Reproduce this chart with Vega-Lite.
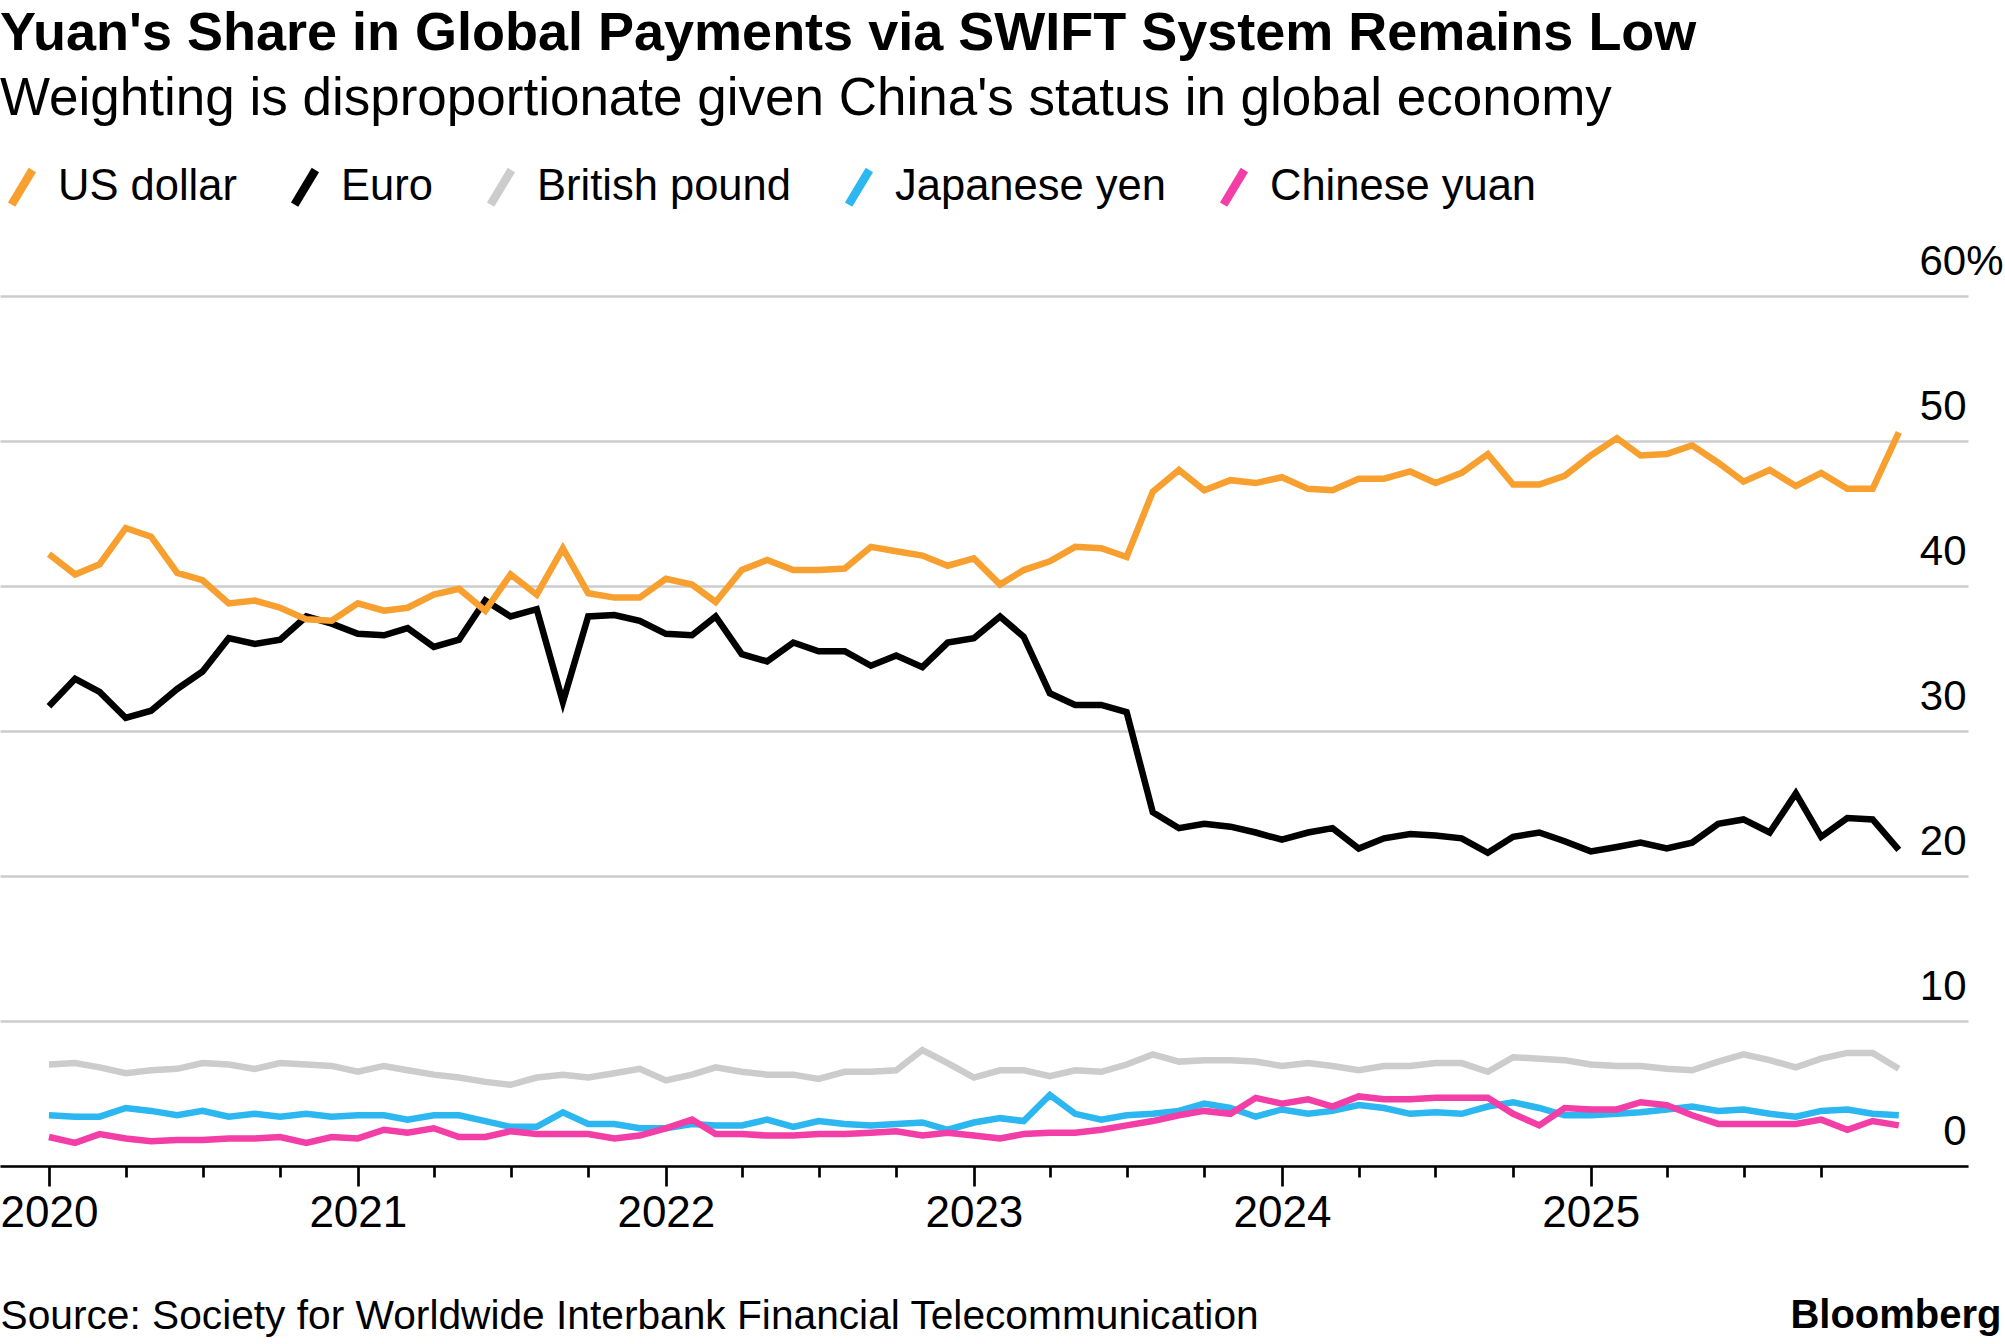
{
  "$schema": "https://vega.github.io/schema/vega-lite/v6.json",
  "width": 1968,
  "height": 870,
  "autosize": {"type": "none"},
  "padding": {"left": 0, "top": 296, "right": 37, "bottom": 178},
  "background": "white",
  "config": {"view": {"stroke": null}, "font": "Liberation Sans"},
  "title": {
    "text": "Yuan's Share in Global Payments via SWIFT System Remains Low",
    "subtitle": "Weighting is disproportionate given China's status in global economy",
    "anchor": "start",
    "frame": "group",
    "font": "Liberation Sans",
    "subtitleFont": "Liberation Sans",
    "fontSize": 54,
    "fontWeight": "bold",
    "subtitleFontSize": 53,
    "color": "#000000",
    "subtitleColor": "#000000",
    "offset": 39,
    "subtitlePadding": 12
  },
  "data": {
    "values": [
      {"date": "2020-01-01", "US dollar": 42.2, "Euro": 31.7, "British pound": 7.0, "Japanese yen": 3.5, "Chinese yuan": 2.0},
      {"date": "2020-02-01", "US dollar": 40.8, "Euro": 33.6, "British pound": 7.1, "Japanese yen": 3.4, "Chinese yuan": 1.6},
      {"date": "2020-03-01", "US dollar": 41.5, "Euro": 32.7, "British pound": 6.8, "Japanese yen": 3.4, "Chinese yuan": 2.2},
      {"date": "2020-04-01", "US dollar": 44.0, "Euro": 30.9, "British pound": 6.4, "Japanese yen": 4.0, "Chinese yuan": 1.9},
      {"date": "2020-05-01", "US dollar": 43.4, "Euro": 31.4, "British pound": 6.6, "Japanese yen": 3.8, "Chinese yuan": 1.7},
      {"date": "2020-06-01", "US dollar": 40.9, "Euro": 32.9, "British pound": 6.7, "Japanese yen": 3.5, "Chinese yuan": 1.8},
      {"date": "2020-07-01", "US dollar": 40.4, "Euro": 34.1, "British pound": 7.1, "Japanese yen": 3.8, "Chinese yuan": 1.8},
      {"date": "2020-08-01", "US dollar": 38.8, "Euro": 36.4, "British pound": 7.0, "Japanese yen": 3.4, "Chinese yuan": 1.9},
      {"date": "2020-09-01", "US dollar": 39.0, "Euro": 36.0, "British pound": 6.7, "Japanese yen": 3.6, "Chinese yuan": 1.9},
      {"date": "2020-10-01", "US dollar": 38.5, "Euro": 36.3, "British pound": 7.1, "Japanese yen": 3.4, "Chinese yuan": 2.0},
      {"date": "2020-11-01", "US dollar": 37.7, "Euro": 37.9, "British pound": 7.0, "Japanese yen": 3.6, "Chinese yuan": 1.6},
      {"date": "2020-12-01", "US dollar": 37.6, "Euro": 37.4, "British pound": 6.9, "Japanese yen": 3.4, "Chinese yuan": 2.0},
      {"date": "2021-01-01", "US dollar": 38.8, "Euro": 36.7, "British pound": 6.5, "Japanese yen": 3.5, "Chinese yuan": 1.9},
      {"date": "2021-02-01", "US dollar": 38.3, "Euro": 36.6, "British pound": 6.9, "Japanese yen": 3.5, "Chinese yuan": 2.5},
      {"date": "2021-03-01", "US dollar": 38.5, "Euro": 37.1, "British pound": 6.6, "Japanese yen": 3.2, "Chinese yuan": 2.3},
      {"date": "2021-04-01", "US dollar": 39.4, "Euro": 35.8, "British pound": 6.3, "Japanese yen": 3.5, "Chinese yuan": 2.6},
      {"date": "2021-05-01", "US dollar": 39.8, "Euro": 36.3, "British pound": 6.1, "Japanese yen": 3.5, "Chinese yuan": 2.0},
      {"date": "2021-06-01", "US dollar": 38.3, "Euro": 39.0, "British pound": 5.8, "Japanese yen": 3.1, "Chinese yuan": 2.0},
      {"date": "2021-07-01", "US dollar": 40.8, "Euro": 37.9, "British pound": 5.6, "Japanese yen": 2.7, "Chinese yuan": 2.4},
      {"date": "2021-08-01", "US dollar": 39.4, "Euro": 38.4, "British pound": 6.1, "Japanese yen": 2.7, "Chinese yuan": 2.2},
      {"date": "2021-09-01", "US dollar": 42.6, "Euro": 32.0, "British pound": 6.3, "Japanese yen": 3.7, "Chinese yuan": 2.2},
      {"date": "2021-10-01", "US dollar": 39.5, "Euro": 37.9, "British pound": 6.1, "Japanese yen": 2.9, "Chinese yuan": 2.2},
      {"date": "2021-11-01", "US dollar": 39.2, "Euro": 38.0, "British pound": 6.4, "Japanese yen": 2.9, "Chinese yuan": 1.9},
      {"date": "2021-12-01", "US dollar": 39.2, "Euro": 37.6, "British pound": 6.7, "Japanese yen": 2.6, "Chinese yuan": 2.1},
      {"date": "2022-01-01", "US dollar": 40.5, "Euro": 36.7, "British pound": 5.9, "Japanese yen": 2.6, "Chinese yuan": 2.6},
      {"date": "2022-02-01", "US dollar": 40.1, "Euro": 36.6, "British pound": 6.3, "Japanese yen": 2.9, "Chinese yuan": 3.2},
      {"date": "2022-03-01", "US dollar": 38.9, "Euro": 37.9, "British pound": 6.8, "Japanese yen": 2.8, "Chinese yuan": 2.2},
      {"date": "2022-04-01", "US dollar": 41.1, "Euro": 35.3, "British pound": 6.5, "Japanese yen": 2.8, "Chinese yuan": 2.2},
      {"date": "2022-05-01", "US dollar": 41.8, "Euro": 34.8, "British pound": 6.3, "Japanese yen": 3.2, "Chinese yuan": 2.1},
      {"date": "2022-06-01", "US dollar": 41.1, "Euro": 36.1, "British pound": 6.3, "Japanese yen": 2.7, "Chinese yuan": 2.1},
      {"date": "2022-07-01", "US dollar": 41.1, "Euro": 35.5, "British pound": 6.0, "Japanese yen": 3.1, "Chinese yuan": 2.2},
      {"date": "2022-08-01", "US dollar": 41.2, "Euro": 35.5, "British pound": 6.5, "Japanese yen": 2.9, "Chinese yuan": 2.2},
      {"date": "2022-09-01", "US dollar": 42.7, "Euro": 34.5, "British pound": 6.5, "Japanese yen": 2.8, "Chinese yuan": 2.3},
      {"date": "2022-10-01", "US dollar": 42.4, "Euro": 35.2, "British pound": 6.6, "Japanese yen": 2.9, "Chinese yuan": 2.4},
      {"date": "2022-11-01", "US dollar": 42.1, "Euro": 34.4, "British pound": 8.0, "Japanese yen": 3.0, "Chinese yuan": 2.1},
      {"date": "2022-12-01", "US dollar": 41.4, "Euro": 36.1, "British pound": 7.1, "Japanese yen": 2.5, "Chinese yuan": 2.3},
      {"date": "2023-01-01", "US dollar": 41.9, "Euro": 36.4, "British pound": 6.1, "Japanese yen": 3.0, "Chinese yuan": 2.1},
      {"date": "2023-02-01", "US dollar": 40.1, "Euro": 37.9, "British pound": 6.6, "Japanese yen": 3.3, "Chinese yuan": 1.9},
      {"date": "2023-03-01", "US dollar": 41.1, "Euro": 36.5, "British pound": 6.6, "Japanese yen": 3.1, "Chinese yuan": 2.2},
      {"date": "2023-04-01", "US dollar": 41.7, "Euro": 32.6, "British pound": 6.2, "Japanese yen": 4.9, "Chinese yuan": 2.3},
      {"date": "2023-05-01", "US dollar": 42.7, "Euro": 31.8, "British pound": 6.6, "Japanese yen": 3.6, "Chinese yuan": 2.3},
      {"date": "2023-06-01", "US dollar": 42.6, "Euro": 31.8, "British pound": 6.5, "Japanese yen": 3.2, "Chinese yuan": 2.5},
      {"date": "2023-07-01", "US dollar": 42.0, "Euro": 31.3, "British pound": 7.0, "Japanese yen": 3.5, "Chinese yuan": 2.8},
      {"date": "2023-08-01", "US dollar": 46.5, "Euro": 24.4, "British pound": 7.7, "Japanese yen": 3.6, "Chinese yuan": 3.1},
      {"date": "2023-09-01", "US dollar": 48.0, "Euro": 23.3, "British pound": 7.2, "Japanese yen": 3.8, "Chinese yuan": 3.5},
      {"date": "2023-10-01", "US dollar": 46.6, "Euro": 23.6, "British pound": 7.3, "Japanese yen": 4.3, "Chinese yuan": 3.8},
      {"date": "2023-11-01", "US dollar": 47.3, "Euro": 23.4, "British pound": 7.3, "Japanese yen": 4.0, "Chinese yuan": 3.6},
      {"date": "2023-12-01", "US dollar": 47.1, "Euro": 23.0, "British pound": 7.2, "Japanese yen": 3.4, "Chinese yuan": 4.7},
      {"date": "2024-01-01", "US dollar": 47.5, "Euro": 22.5, "British pound": 6.9, "Japanese yen": 3.9, "Chinese yuan": 4.3},
      {"date": "2024-02-01", "US dollar": 46.7, "Euro": 23.0, "British pound": 7.1, "Japanese yen": 3.6, "Chinese yuan": 4.6},
      {"date": "2024-03-01", "US dollar": 46.6, "Euro": 23.3, "British pound": 6.9, "Japanese yen": 3.8, "Chinese yuan": 4.1},
      {"date": "2024-04-01", "US dollar": 47.4, "Euro": 21.9, "British pound": 6.6, "Japanese yen": 4.2, "Chinese yuan": 4.8},
      {"date": "2024-05-01", "US dollar": 47.4, "Euro": 22.6, "British pound": 6.9, "Japanese yen": 4.0, "Chinese yuan": 4.6},
      {"date": "2024-06-01", "US dollar": 47.9, "Euro": 22.9, "British pound": 6.9, "Japanese yen": 3.6, "Chinese yuan": 4.6},
      {"date": "2024-07-01", "US dollar": 47.1, "Euro": 22.8, "British pound": 7.1, "Japanese yen": 3.7, "Chinese yuan": 4.7},
      {"date": "2024-08-01", "US dollar": 47.8, "Euro": 22.6, "British pound": 7.1, "Japanese yen": 3.6, "Chinese yuan": 4.7},
      {"date": "2024-09-01", "US dollar": 49.1, "Euro": 21.6, "British pound": 6.5, "Japanese yen": 4.1, "Chinese yuan": 4.7},
      {"date": "2024-10-01", "US dollar": 47.0, "Euro": 22.7, "British pound": 7.5, "Japanese yen": 4.4, "Chinese yuan": 3.6},
      {"date": "2024-11-01", "US dollar": 47.0, "Euro": 23.0, "British pound": 7.4, "Japanese yen": 4.0, "Chinese yuan": 2.8},
      {"date": "2024-12-01", "US dollar": 47.6, "Euro": 22.4, "British pound": 7.3, "Japanese yen": 3.5, "Chinese yuan": 4.0},
      {"date": "2025-01-01", "US dollar": 49.0, "Euro": 21.7, "British pound": 7.0, "Japanese yen": 3.5, "Chinese yuan": 3.9},
      {"date": "2025-02-01", "US dollar": 50.2, "Euro": 22.0, "British pound": 6.9, "Japanese yen": 3.6, "Chinese yuan": 3.9},
      {"date": "2025-03-01", "US dollar": 49.0, "Euro": 22.3, "British pound": 6.9, "Japanese yen": 3.7, "Chinese yuan": 4.4},
      {"date": "2025-04-01", "US dollar": 49.1, "Euro": 21.9, "British pound": 6.7, "Japanese yen": 3.9, "Chinese yuan": 4.2},
      {"date": "2025-05-01", "US dollar": 49.7, "Euro": 22.3, "British pound": 6.6, "Japanese yen": 4.1, "Chinese yuan": 3.5},
      {"date": "2025-06-01", "US dollar": 48.5, "Euro": 23.6, "British pound": 7.2, "Japanese yen": 3.8, "Chinese yuan": 2.9},
      {"date": "2025-07-01", "US dollar": 47.2, "Euro": 23.9, "British pound": 7.7, "Japanese yen": 3.9, "Chinese yuan": 2.9},
      {"date": "2025-08-01", "US dollar": 48.0, "Euro": 23.0, "British pound": 7.3, "Japanese yen": 3.6, "Chinese yuan": 2.9},
      {"date": "2025-09-01", "US dollar": 46.9, "Euro": 25.7, "British pound": 6.8, "Japanese yen": 3.4, "Chinese yuan": 2.9},
      {"date": "2025-10-01", "US dollar": 47.8, "Euro": 22.7, "British pound": 7.4, "Japanese yen": 3.8, "Chinese yuan": 3.2},
      {"date": "2025-11-01", "US dollar": 46.7, "Euro": 24.0, "British pound": 7.8, "Japanese yen": 3.9, "Chinese yuan": 2.5},
      {"date": "2025-12-01", "US dollar": 46.7, "Euro": 23.9, "British pound": 7.8, "Japanese yen": 3.6, "Chinese yuan": 3.1},
      {"date": "2026-01-01", "US dollar": 50.6, "Euro": 21.8, "British pound": 6.7, "Japanese yen": 3.5, "Chinese yuan": 2.8}
    ]
  },
  "transform": [
    {"fold": ["British pound", "Japanese yen", "Chinese yuan", "Euro", "US dollar"], "as": ["currency", "share"]}
  ],
  "mark": {"type": "line", "strokeWidth": 6.5, "strokeJoin": "miter", "strokeMiterLimit": 4},
  "encoding": {
    "x": {
      "field": "date",
      "type": "temporal",
      "scale": {
        "type": "utc",
        "domain": [
          {"year": 2019, "month": 11, "date": 4, "utc": true},
          {"year": 2026, "month": 3, "date": 24, "utc": true}
        ]
      },
      "axis": {
        "values": [
          {"year": 2020, "month": 1, "date": 1, "utc": true}, {"year": 2020, "month": 4, "date": 1, "utc": true}, {"year": 2020, "month": 7, "date": 1, "utc": true}, {"year": 2020, "month": 10, "date": 1, "utc": true},
          {"year": 2021, "month": 1, "date": 1, "utc": true}, {"year": 2021, "month": 4, "date": 1, "utc": true}, {"year": 2021, "month": 7, "date": 1, "utc": true}, {"year": 2021, "month": 10, "date": 1, "utc": true},
          {"year": 2022, "month": 1, "date": 1, "utc": true}, {"year": 2022, "month": 4, "date": 1, "utc": true}, {"year": 2022, "month": 7, "date": 1, "utc": true}, {"year": 2022, "month": 10, "date": 1, "utc": true},
          {"year": 2023, "month": 1, "date": 1, "utc": true}, {"year": 2023, "month": 4, "date": 1, "utc": true}, {"year": 2023, "month": 7, "date": 1, "utc": true}, {"year": 2023, "month": 10, "date": 1, "utc": true},
          {"year": 2024, "month": 1, "date": 1, "utc": true}, {"year": 2024, "month": 4, "date": 1, "utc": true}, {"year": 2024, "month": 7, "date": 1, "utc": true}, {"year": 2024, "month": 10, "date": 1, "utc": true},
          {"year": 2025, "month": 1, "date": 1, "utc": true}, {"year": 2025, "month": 4, "date": 1, "utc": true}, {"year": 2025, "month": 7, "date": 1, "utc": true}, {"year": 2025, "month": 10, "date": 1, "utc": true}
        ],
        "labelExpr": "utcmonth(datum.value) == 0 ? utcFormat(datum.value, '%Y') : ''",
        "tickSize": {"condition": {"test": "utcmonth(datum.value) == 0", "value": 20}, "value": 11},
        "tickColor": "#000000",
        "tickWidth": 2.7,
        "domainColor": "#000000",
        "domainWidth": 2.7,
        "grid": false,
        "labelFont": "Liberation Sans",
        "labelFontSize": 44,
        "labelColor": "#000000",
        "labelBaseline": "alphabetic",
        "labelPadding": 40,
        "labelFlush": false,
        "labelOverlap": false,
        "labelBound": false,
        "title": "Source: Society for Worldwide Interbank Financial Telecommunication",
        "titleFont": "Liberation Sans",
        "titleFontSize": 40.7,
        "titleFontWeight": "normal",
        "titleColor": "#000000",
        "titleX": 0,
        "titleY": 162,
        "titleAlign": "left",
        "titleAnchor": "start",
        "titleBaseline": "alphabetic"
      }
    },
    "y": {
      "field": "share",
      "type": "quantitative",
      "scale": {"domain": [0, 60]},
      "axis": {
        "orient": "right",
        "values": [0, 10, 20, 30, 40, 50, 60],
        "grid": true,
        "gridColor": "#cccccc",
        "gridWidth": 2.5,
        "domain": false,
        "ticks": false,
        "tickSize": 0,
        "labelAlign": "right",
        "labelBaseline": "alphabetic",
        "labelOffset": -22,
        "labelPadding": {"condition": {"test": "datum.value == 60", "value": 35}, "value": -2},
        "labelExpr": "datum.value == 60 ? '60%' : datum.label",
        "labelFont": "Liberation Sans",
        "labelFontSize": 42,
        "labelColor": "#000000",
        "labelFlush": false,
        "labelOverlap": false,
        "labelBound": false,
        "title": "Bloomberg",
        "titleFont": "Liberation Sans",
        "titleAngle": 0,
        "titleX": 33,
        "titleY": 1031,
        "titleAlign": "right",
        "titleBaseline": "alphabetic",
        "titleFontSize": 40,
        "titleFontWeight": "bold",
        "titleColor": "#000000"
      }
    },
    "color": {
      "field": "currency",
      "type": "nominal",
      "scale": {
        "domain": ["US dollar", "Euro", "British pound", "Japanese yen", "Chinese yuan"],
        "range": ["#f7a030", "#000000", "#cccccc", "#2cb7f0", "#f23ea6"]
      },
      "legend": {
        "orient": "none",
        "legendX": 0,
        "legendY": -131,
        "direction": "horizontal",
        "title": null,
        "padding": 0,
        "symbolType": "M-0.6,1L0.6,-1",
        "symbolSize": 1200,
        "symbolStrokeWidth": 8.5,
        "labelFont": "Liberation Sans",
        "labelFontSize": 43.5,
        "labelColor": "#000000",
        "labelOffset": 14,
        "labelLimit": 0,
        "columnPadding": 40
      }
    }
  }
}
